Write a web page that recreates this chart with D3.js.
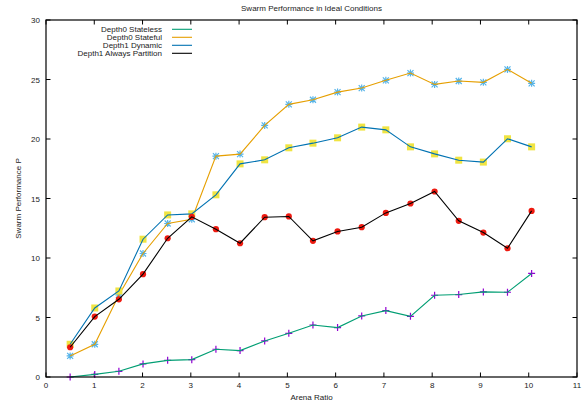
<!DOCTYPE html>
<html><head><meta charset="utf-8">
<script src="https://cdn.jsdelivr.net/npm/d3@7"></script>
<style>
body{margin:0;background:#fff;}
text{font-family:"Liberation Sans",Arial,sans-serif;font-size:8px;fill:#222;}
</style></head>
<body><svg id="c" width="587" height="405"></svg>
<script>
const arenaRatio = [0.5,1.01,1.51,2.01,2.52,3.02,3.52,4.02,4.53,5.03,5.53,6.04,6.54,7.04,7.55,8.05,8.55,9.06,9.56,10.06];
const depth0Stateless = [0.0,0.22,0.48,1.1,1.4,1.46,2.33,2.22,3.03,3.67,4.37,4.15,5.13,5.58,5.1,6.87,6.93,7.15,7.12,8.7];
const depth0Stateful = [1.77,2.75,6.9,10.38,12.9,13.26,18.56,18.73,21.14,22.91,23.3,23.94,24.28,24.93,25.54,24.59,24.87,24.76,25.85,24.68];
const depth1Dynamic = [2.75,5.8,7.23,11.58,13.62,13.71,15.31,17.91,18.25,19.26,19.65,20.1,21.0,20.77,19.34,18.75,18.22,18.06,20.02,19.34];
const depth1AlwaysPartition = [2.5,5.08,6.53,8.64,11.66,13.46,12.42,11.24,13.43,13.49,11.44,12.23,12.59,13.79,14.58,15.59,13.12,12.14,10.82,13.96];
const seriesNames = ["Depth0 Stateless","Depth0 Stateful","Depth1 Dynamic","Depth1 Always Partition"];
const xTicks = d3.range(0,12,1);
const yTicks = d3.range(0,31,5);

const series = [
  {name:seriesNames[0], values:depth0Stateless, line:"#009e73", mark:"#9400d3", type:"plus"},
  {name:seriesNames[1], values:depth0Stateful, line:"#e69f00", mark:"#56b4e9", type:"star"},
  {name:seriesNames[2], values:depth1Dynamic, line:"#0072b2", mark:"#f0e442", type:"square"},
  {name:seriesNames[3], values:depth1AlwaysPartition, line:"#000000", mark:"#ee1a10", type:"circle"}
];

const W=587,H=405, m={l:46,r:10,t:20,b:28};
const svg=d3.select("#c");
const x=d3.scaleLinear().domain([0,11]).range([m.l,W-m.r]);
const y=d3.scaleLinear().domain([0,30]).range([H-m.b,m.t]);

// ticks
const tl=4.5;
const g=svg.append("g");
xTicks.forEach(t=>{
  g.append("line").attr("x1",x(t)).attr("x2",x(t)).attr("y1",y(0)).attr("y2",y(0)-tl).attr("stroke","#000");
  g.append("line").attr("x1",x(t)).attr("x2",x(t)).attr("y1",y(30)).attr("y2",y(30)+tl).attr("stroke","#000");
  g.append("text").attr("x",x(t)).attr("y",y(0)+11).attr("text-anchor","middle").text(t);
});
yTicks.forEach(t=>{
  g.append("line").attr("x1",x(0)).attr("x2",x(0)+tl).attr("y1",y(t)).attr("y2",y(t)).attr("stroke","#000");
  g.append("line").attr("x1",x(11)).attr("x2",x(11)-tl).attr("y1",y(t)).attr("y2",y(t)).attr("stroke","#000");
  g.append("text").attr("x",x(0)-6).attr("y",y(t)+3).attr("text-anchor","end").text(t);
});

// data
const line=d3.line().x((d,i)=>x(arenaRatio[i])).y(d=>y(d));
series.forEach(s=>{
  const pg=svg.append("g");
  s.values.forEach((v,i)=>{
    const px=x(arenaRatio[i]), py=y(v);
    if(s.type==="plus"){
      pg.append("path").attr("d",`M${px-3.5},${py}H${px+3.5}M${px},${py-3.5}V${py+3.5}`).attr("stroke",s.mark).attr("stroke-width",1.2);
    } else if(s.type==="star"){
      pg.append("path").attr("d",`M${px-3.5},${py}H${px+3.5}M${px},${py-3.5}V${py+3.5}M${px-3},${py-3}L${px+3},${py+3}M${px-3},${py+3}L${px+3},${py-3}`).attr("stroke",s.mark).attr("stroke-width",1.2);
    } else if(s.type==="square"){
      pg.append("rect").attr("x",px-3.5).attr("y",py-3.5).attr("width",7).attr("height",7).attr("fill",s.mark);
    } else {
      pg.append("circle").attr("cx",px).attr("cy",py).attr("r",3.1).attr("fill",s.mark);
    }
  });
  svg.append("path").attr("d",line(s.values)).attr("fill","none").attr("stroke",s.line).attr("stroke-width",1.1);
});

// border
svg.append("rect").attr("x",x(0)).attr("y",y(30)).attr("width",x(11)-x(0)).attr("height",y(0)-y(30)).attr("fill","none").attr("stroke","#000").attr("stroke-width",1.2);

// legend
series.forEach((s,i)=>{
  const ly=29.3+i*8;
  svg.append("text").attr("x",162).attr("y",ly+2.8).attr("text-anchor","end").text(s.name);
  svg.append("line").attr("x1",172).attr("x2",192).attr("y1",ly).attr("y2",ly).attr("stroke",s.line).attr("stroke-width",1.1);
});

// titles
svg.append("text").attr("x",(x(0)+x(11))/2).attr("y",11).attr("text-anchor","middle").text("Swarm Performance in Ideal Conditions");
svg.append("text").attr("x",(x(0)+x(11))/2).attr("y",400).attr("text-anchor","middle").text("Arena Ratio");
svg.append("text").attr("transform",`translate(21,${(y(0)+y(30))/2}) rotate(-90)`).attr("text-anchor","middle").text("Swarm Performance P");
</script></body></html>
